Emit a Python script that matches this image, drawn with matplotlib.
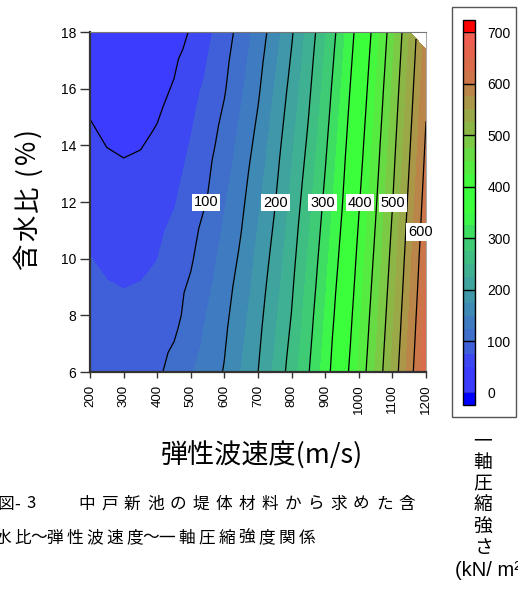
import numpy as np
import matplotlib
matplotlib.use("Agg")
import matplotlib.pyplot as plt
import matplotlib.tri as mtri
from matplotlib.colors import LinearSegmentedColormap, ListedColormap
from matplotlib.patches import Rectangle

plt.rcParams['font.family'] = ['Liberation Sans', 'DejaVu Sans']
CJK = ['Noto Sans CJK JP', 'DejaVu Sans']

# ---------------- data ----------------
velocity = [200, 250, 300, 350, 400, 450, 500, 550, 600, 650, 700,
            750, 800, 850, 900, 950, 1000, 1050, 1100, 1150, 1200]
water_content = [6, 8, 10, 12, 14, 16, 17.4, 18]
# unconfined compressive strength (kN/m2), one row per water content
strength = [
    [88, 89, 90, 92, 96, 108, 122.9, 137.0, 151.8, 175.8, 199.8, 229.7, 261.8, 298.2, 336.3, 381.7, 429.3, 477.5, 530.4, 586.4, 642.3],
    [82, 81.7, 80, 81.4, 85, 93, 109.2, 126.4, 143.6, 165.9, 191.0, 219.9, 250.9, 288.2, 326.9, 370.4, 419.0, 467.5, 520.0, 576.5, 633.0],
    [75.5, 71, 69.2, 70.6, 74.7, 86.2, 97.3, 114.7, 134.1, 154.8, 181.3, 209.4, 241.3, 277.7, 316.9, 359.1, 408.3, 457.1, 509.5, 566.6, 623.6],
    [65.1, 60.3, 58.4, 59.9, 64.4, 73.1, 86.9, 101.2, 122.8, 144.3, 170.6, 198.5, 231.2, 266.7, 306.2, 348.2, 397.2, 446.5, 498.8, 556.6, 614.0],
    [54.8, 49.6, 47.6, 49.1, 54.0, 62.7, 76.5, 91.7, 110.3, 133.5, 158.5, 188.2, 220.4, 255.2, 295.2, 338.2, 385.9, 436.0, 488.7, 546.1, 604.2],
    [44.4, 38.9, 36.9, 38.4, 43.7, 51.9, 66.2, 80.9, 97.8, 121.4, 146.1, 176.5, 208.9, 244.1, 284.1, 327.5, 374.7, 425.0, 478.1, 535.5, 594.3],
    [37, 31.4, 29.5, 30.8, 36.4, 44.3, 55.0, 73.1, 91.4, 113.4, 138.3, 167.4, 200.4, 236.4, 276.0, 319.6, 366.8, 417.0, 470.4, 527.9, 587.1],
    [34, 28, 26, 27.6, 33.3, 41, 51.7, 69.3, 88.1, 110.0, 134.9, 163.2, 196.8, 233.0, 272.4, 316.0, 363.3, 413.5, 467.0, 524.6, 584.0],
]
x_ticks = [200, 300, 400, 500, 600, 700, 800, 900, 1000, 1100, 1200]
y_ticks = [6, 8, 10, 12, 14, 16, 18]
fill_levels = [0, 25, 50, 75, 100, 125, 150, 175, 200, 225, 250, 275, 300, 325,
               350, 375, 400, 425, 450, 475, 500, 525, 550, 575, 600, 625, 650, 675, 700]
plain_levels = [50, 150, 250, 350, 450, 550]
label_levels = [100, 200, 300, 400, 500, 600]
cbar_ticks = [0, 100, 200, 300, 400, 500, 600, 700]

x_label = '弾性波速度(m/s)'
y_label = '含水比(%)'
cbar_label = '一軸圧縮強さ'
cbar_unit = '(kN/ m²)'
caption1_head = ['図', '-', '3']
caption1 = '中戸新池の堤体材料から求めた含'
caption2 = '水比～弾性波速度～一軸圧縮強度関係'

# ---------------- style ----------------
color_stops = [(0, '#3c3cff'), (50, '#3c3cff'), (75, '#3f58e2'), (100, '#3f68d0'),
               (150, '#3f82bb'), (200, '#3f9fa2'), (250, '#3fb78a'), (300, '#3fd070'),
               (330, '#3df052'), (350, '#3cff3c'), (400, '#3cff3c'), (450, '#5ce642'),
               (500, '#84c046'), (550, '#a2a048'), (600, '#c27c48'), (650, '#e0664c'),
               (700, '#f55a52')]
smooth = LinearSegmentedColormap.from_list(
    'uc', [(v / 700.0, c) for v, c in color_stops])
mids = [(a + b) / 2 / 700.0 for a, b in zip(fill_levels[:-1], fill_levels[1:])]
band_cmap = ListedColormap([smooth(m) for m in mids])
band_cmap.set_under('#0000ff')
band_cmap.set_over('#ff0000')

W, H = 518, 590
def fx(p): return p / W
def fy(p): return 1 - p / H

fig = plt.figure(figsize=(W / 100, H / 100), dpi=100)
ax = fig.add_axes([fx(90), fy(372), fx(426) - fx(90), fy(32) - fy(372)])

# triangulated grid (top-right corner triangle missing)
V, Wc = np.meshgrid(velocity, water_content)
z = np.array(strength, dtype=float).ravel()
nc, nr = len(velocity), len(water_content)
tris, mask = [], []
for j in range(nr - 1):
    for i in range(nc - 1):
        bl = j * nc + i
        br, tl = bl + 1, bl + nc
        tr = tl + 1
        tris.append([bl, br, tl]); mask.append(False)
        tris.append([br, tr, tl]); mask.append(j == nr - 2 and i == nc - 2)
tri = mtri.Triangulation(V.ravel(), Wc.ravel(), tris, mask=mask)

cf = ax.tricontourf(tri, z, levels=fill_levels, cmap=band_cmap, extend='both')
ax.tricontour(tri, z, levels=plain_levels, colors='black', linewidths=0.9)
cl = ax.tricontour(tri, z, levels=label_levels, colors='black', linewidths=0.9)

ax.set_xlim(200, 1200)
ax.set_ylim(6, 18)

label_pos = [(551, 11.97), (760, 11.97), (897, 11.97), (1010, 11.97),
             (1106, 11.97), (1192, 10.94)]
texts = ax.clabel(cl, inline=False, fontsize=10.5, fmt='%d', manual=label_pos)
for t in texts:
    t.set_rotation(0)
    t.set_clip_on(False)
    t.set_zorder(5)
    t.set_bbox(dict(boxstyle='square,pad=0.12', fc='white', ec='none'))

ax.set_xticks(x_ticks)
ax.set_yticks(y_ticks)
ax.tick_params(axis='y', direction='out', length=7, width=1, pad=3,
               labelsize=10, color='#333333')
ax.tick_params(axis='x', direction='out', length=4, width=1, pad=5,
               labelsize=9.5, labelrotation=90, color='#333333')
for s in ['left', 'bottom']:
    ax.spines[s].set_color('#333333')
    ax.spines[s].set_linewidth(1.6)
ax.spines['top'].set_color('#777777')
ax.spines['right'].set_color('#aaaaaa')

# colorbar
cax = fig.add_axes([fx(463), fy(405), fx(475) - fx(463), fy(20) - fy(405)])
cb = fig.colorbar(cf, cax=cax, extend='both', extendrect=True,
                  extendfrac=12 / 360, ticks=cbar_ticks)
cb.outline.set_edgecolor('black')
cb.outline.set_linewidth(1)
cax.tick_params(length=0, pad=9, labelsize=10)
for t in cbar_ticks:
    cax.axhline(t, color='black', lw=1)
fig.patches.append(Rectangle((fx(452), fy(417)), fx(516) - fx(452), fy(7) - fy(417),
                             transform=fig.transFigure, fill=False,
                             edgecolor='#555555', lw=1))

# axis labels
fig.text(fx(262), fy(456), x_label, ha='center', va='center', fontsize=19.5,
         family=CJK)
y_centers = [257, 228, 199, 171, 152, 133]
for ch, yc in zip(y_label, y_centers):
    fig.text(fx(28), fy(yc), ch, rotation=90, ha='center', va='center',
             fontsize=19, family=CJK)

# colorbar title (vertical)
for i, ch in enumerate(cbar_label):
    fig.text(fx(483), fy(441 + 21.3 * i), ch, ha='center', va='center',
             fontsize=13.5, family=CJK)
fig.text(fx(455), fy(571), cbar_unit, ha='left', va='center', fontsize=14.5,
         family=['Liberation Sans', 'DejaVu Sans'])

# caption
for ch, xc in zip(caption1_head, [6, 17.5, 31]):
    fig.text(fx(xc), fy(504), ch, ha='center', va='center', fontsize=12, family=CJK)
for i, ch in enumerate(caption1):
    fig.text(fx(86.5 + 22.9 * i), fy(504), ch, ha='center', va='center',
             fontsize=12, family=CJK)
xpos = 3.0
for i, ch in enumerate(caption2):
    fig.text(fx(xpos), fy(538), ch, ha='center', va='center', fontsize=12, family=CJK)
    nxt = caption2[i + 1] if i + 1 < len(caption2) else ''
    xpos += 16 if ('～' in (ch, nxt)) else 20

fig.savefig('out.png', dpi=100)
